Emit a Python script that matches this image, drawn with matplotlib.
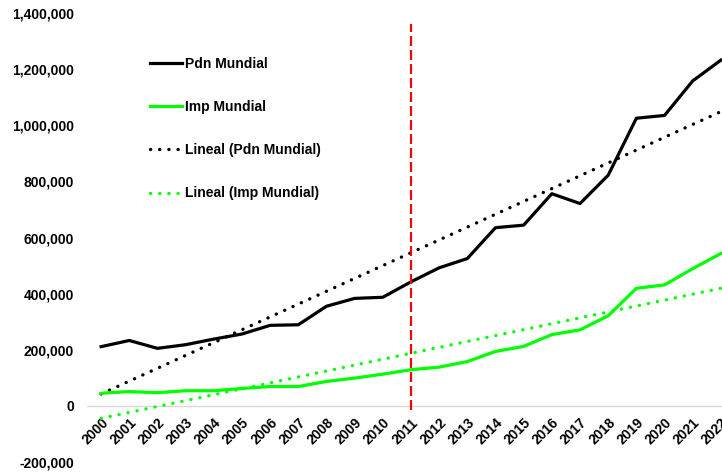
import matplotlib
matplotlib.use("Agg")
import matplotlib.pyplot as plt
from matplotlib.ticker import FuncFormatter
import numpy as np

years = list(range(2000, 2023))
pdn_mundial = [211000, 233000, 205000, 218000, 238000, 256000, 287000, 289000,
               355000, 383000, 387000, 442000, 492000, 525000, 635000, 644000,
               756000, 721000, 822000, 1025000, 1035000, 1158000, 1232000]
imp_mundial = [45000, 51000, 47000, 54000, 54000, 62000, 69000, 69000,
               87000, 99000, 113000, 129000, 138000, 158000, 194000, 212000,
               254000, 271000, 321000, 419000, 431000, 489000, 543000]
marker_year = 2011

BLACK = "#000000"
GREEN = "#00ff00"
RED = "#ff0000"

plt.rcParams["font.family"] = ["Liberation Sans", "DejaVu Sans"]
plt.rcParams["font.weight"] = "bold"

W, H = 722, 473
fig = plt.figure(figsize=(W / 100, H / 100), dpi=100)
ax = fig.add_axes([87 / W, 1 - 462 / H, (W - 87) / W, (462 - 13) / H])

xs = np.arange(len(years))

# el eje x cruza en 0 (hay que ponerlo antes de las etiquetas)
for s in ax.spines.values():
    s.set_visible(False)
ax.spines["bottom"].set_position(("data", 0))

ax.plot(xs, pdn_mundial, color=BLACK, lw=2.3, label="Pdn Mundial", zorder=3)
ax.plot(xs, imp_mundial, color=GREEN, lw=2.3, label="Imp Mundial", zorder=3)

# lineas de tendencia (ajuste lineal como en Excel)
for serie, color, label in [(pdn_mundial, BLACK, "Lineal (Pdn Mundial)"),
                            (imp_mundial, GREEN, "Lineal (Imp Mundial)")]:
    m, b = np.polyfit(xs, serie, 1)
    ax.plot(xs, m * xs + b, color=color, lw=2.4, linestyle=(0, (0.05, 2.7)),
            dash_capstyle="round", label=label, zorder=2)

ax.axhline(0, color="#d9d9d9", lw=1, zorder=1)
ax.vlines(years.index(marker_year), -15000, 1360000, color=RED, lw=1.6,
          linestyle=(0, (4.5, 1.8)), zorder=4)

ax.set_xlim(-0.5, len(years) - 1 + 0.04)
ax.set_ylim(-200000, 1400000)
ax.set_yticks(np.arange(-200000, 1400001, 200000))
ax.yaxis.set_major_formatter(FuncFormatter(lambda v, _: f"{v:,.0f}"))
ax.set_xticks(xs)
ax.set_xticklabels([str(y) for y in years], rotation=45, ha="right",
                   rotation_mode="anchor")

ax.tick_params(axis="both", length=0, labelsize=10)
ax.tick_params(axis="y", pad=9.5)
ax.tick_params(axis="x", pad=7)

ax.legend(loc="upper left", bbox_to_anchor=(150 / W, 1 - 57 / H),
          bbox_transform=fig.transFigure, frameon=False, fontsize=10,
          borderpad=0, borderaxespad=0, handlelength=2.3,
          handletextpad=0.25, labelspacing=2.1)

fig.savefig("out.png", dpi=100)
